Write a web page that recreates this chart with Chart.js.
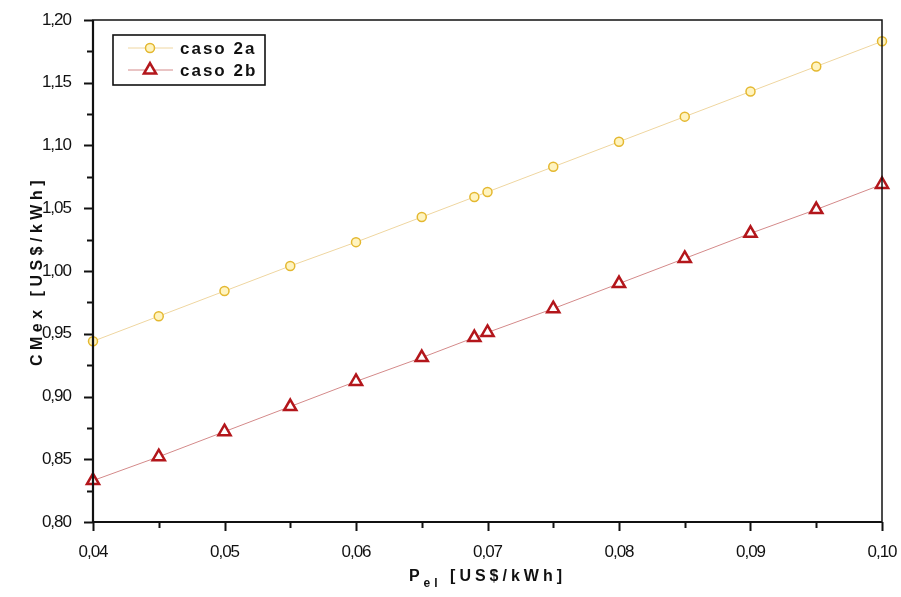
<!DOCTYPE html>
<html>
<head>
<meta charset="utf-8">
<script src="https://cdn.jsdelivr.net/npm/chart.js@4.4.1/dist/chart.umd.min.js"></script>
<style>
  html, body { margin: 0; padding: 0; background: #fff; }
  #wrap { width: 901px; height: 597px; }
</style>
</head>
<body>
<div id="wrap"><canvas id="cmexChart" width="901" height="597"></canvas></div>
<script>
// electricity price P_el [US$/kWh]
const pel = [0.04, 0.045, 0.05, 0.055, 0.06, 0.065, 0.069, 0.07, 0.075, 0.08, 0.085, 0.09, 0.095, 0.10];
// CMex [US$/kWh] for each case
const caso2a = [0.944, 0.964, 0.984, 1.004, 1.023, 1.043, 1.059, 1.063, 1.083, 1.103, 1.123, 1.143, 1.163, 1.183];
const caso2b = [0.833, 0.852, 0.872, 0.892, 0.912, 0.931, 0.947, 0.951, 0.970, 0.990, 1.010, 1.030, 1.049, 1.069];
const seriesNames = ["caso 2a", "caso 2b"];

const xRange = [0.04, 0.10];
const yRange = [0.80, 1.20];

const fmt = v => v.toFixed(2).replace(".", ",");
const toPoints = ys => pel.map((x, i) => ({ x: x, y: ys[i] }));

const styleA = { line: "#efd6a0", stroke: "#e4b830", fill: "#fff4c0", pointStyle: "circle", radius: 4.5, width: 1.5 };
const styleB = { line: "#d48a8a", stroke: "#b3161b", fill: "#ffffff", pointStyle: "triangle", radius: 7, width: 2.5 };

// condensed tick labels
const tightText = {
  id: "tightText",
  beforeDraw(chart) { chart.ctx.letterSpacing = "-1px"; }
};

// frame, outward ticks, axis titles and the boxed legend
const decorations = {
  id: "decorations",
  afterDraw(chart) {
    const ctx = chart.ctx;
    const a = chart.chartArea;
    const xs = chart.scales.x, ys = chart.scales.y;
    ctx.save();
    ctx.strokeStyle = "#111";

    // frame
    ctx.lineWidth = 1.5;
    ctx.strokeRect(a.left, a.top, a.right - a.left, a.bottom - a.top);
    ctx.lineWidth = 2.2;
    ctx.beginPath();
    ctx.moveTo(a.left, a.top);
    ctx.lineTo(a.left, a.bottom);
    ctx.lineTo(a.right, a.bottom);
    ctx.stroke();

    // ticks: major every 0.01 / 0.05, minor halfway
    ctx.lineWidth = 2;
    for (let i = 0; i <= 12; i++) {
      const v = xRange[0] + i * 0.005;
      const px = Math.round(xs.getPixelForValue(v)) + 0.5;
      const len = i % 2 === 0 ? 9 : 6;
      ctx.beginPath();
      ctx.moveTo(px, a.bottom);
      ctx.lineTo(px, a.bottom + len);
      ctx.stroke();
    }
    for (let i = 0; i <= 16; i++) {
      const v = yRange[0] + i * 0.025;
      const py = Math.round(ys.getPixelForValue(v)) + 0.5;
      const len = i % 2 === 0 ? 9 : 6;
      ctx.beginPath();
      ctx.moveTo(a.left, py);
      ctx.lineTo(a.left - len, py);
      ctx.stroke();
    }

    // axis titles
    ctx.fillStyle = "#111";
    ctx.textBaseline = "middle";
    ctx.letterSpacing = "4.5px";
    ctx.font = "bold 16px Arial";
    ctx.save();
    ctx.translate(38, (a.top + a.bottom) / 2);
    ctx.rotate(-Math.PI / 2);
    ctx.textAlign = "center";
    ctx.fillText("CMex [US$/kWh]", 0, 0);
    ctx.restore();

    ctx.letterSpacing = "4px";
    const main = "P", sub = "el", rest = " [US$/kWh]";
    ctx.font = "bold 16px Arial";
    const wMain = ctx.measureText(main).width;
    const wRest = ctx.measureText(rest).width;
    ctx.font = "bold 12px Arial";
    const wSub = ctx.measureText(sub).width;
    let tx = (a.left + a.right) / 2 - (wMain + wSub + wRest) / 2;
    const ty = 577;
    ctx.textAlign = "left";
    ctx.font = "bold 16px Arial";
    ctx.fillText(main, tx, ty);
    tx += wMain;
    ctx.font = "bold 12px Arial";
    ctx.fillText(sub, tx, ty + 7);
    tx += wSub;
    ctx.font = "bold 16px Arial";
    ctx.fillText(rest, tx, ty);

    // legend box
    const lx = 113, ly = 35, lw = 152, lh = 50;
    ctx.letterSpacing = "2px";
    ctx.lineWidth = 1.6;
    ctx.strokeStyle = "#111";
    ctx.strokeRect(lx, ly, lw, lh);
    [styleA, styleB].forEach((s, i) => {
      const cy = ly + 13 + i * 22;
      ctx.strokeStyle = s.line;
      ctx.lineWidth = 1;
      ctx.beginPath();
      ctx.moveTo(lx + 15, cy);
      ctx.lineTo(lx + 60, cy);
      ctx.stroke();
      Chart.helpers.drawPoint(ctx, {
        pointStyle: s.pointStyle, radius: s.radius, borderWidth: s.width, rotation: 0
      }, lx + 37, cy);
      ctx.fillStyle = s.fill;
      ctx.strokeStyle = s.stroke;
      ctx.lineWidth = s.width;
      ctx.fill();
      ctx.stroke();
      ctx.fillStyle = "#111";
      ctx.font = "bold 17px Arial";
      ctx.fillText(seriesNames[i], lx + 67, cy + 1);
    });
    ctx.restore();
  }
};

function dataset(label, ys, s) {
  return {
    label: label,
    data: toPoints(ys),
    showLine: true,
    borderColor: s.line,
    borderWidth: 1,
    pointStyle: s.pointStyle,
    pointRadius: s.radius,
    pointBorderWidth: s.width,
    pointBorderColor: s.stroke,
    pointBackgroundColor: s.fill,
    clip: false
  };
}

new Chart(document.getElementById("cmexChart"), {
  type: "scatter",
  data: {
    datasets: [dataset(seriesNames[0], caso2a, styleA), dataset(seriesNames[1], caso2b, styleB)]
  },
  options: {
    responsive: false,
    animation: false,
    layout: { padding: { top: 20, right: 19, left: 0, bottom: 0 } },
    plugins: { legend: { display: false }, tooltip: { enabled: false } },
    scales: {
      x: {
        type: "linear",
        min: xRange[0],
        max: xRange[1],
        grid: { display: false },
        border: { display: false },
        afterFit: s => { s.height = 75; s.paddingLeft = 0; s.paddingRight = 0; },
        ticks: {
          stepSize: 0.01,
          padding: 12,
          color: "#111",
          font: { family: "Arial", size: 17 },
          callback: v => fmt(v)
        }
      },
      y: {
        type: "linear",
        min: yRange[0],
        max: yRange[1],
        grid: { display: false },
        border: { display: false },
        afterFit: s => { s.width = 93; s.paddingTop = 0; s.paddingBottom = 0; },
        ticks: {
          stepSize: 0.05,
          padding: 14,
          color: "#111",
          font: { family: "Arial", size: 17 },
          callback: v => fmt(v)
        }
      }
    }
  },
  plugins: [tightText, decorations]
});
</script>
</body>
</html>
